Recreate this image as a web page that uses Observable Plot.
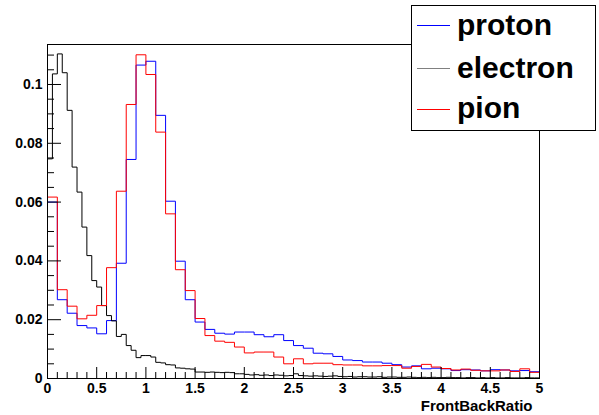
<!DOCTYPE html>
<html>
<head>
<meta charset="utf-8">
<script src="https://cdn.jsdelivr.net/npm/d3@7"></script>
<script src="https://cdn.jsdelivr.net/npm/@observablehq/plot@0.6"></script>
<style>
  html, body { margin: 0; padding: 0; background: #fff; }
  #chart { width: 599px; height: 415px; }
</style>
</head>
<body>
<div id="chart"></div>
<script>
// ---- data (histogram bin contents) ----
const coarseBinWidth = 0.1;   // proton & pion: 50 bins on [0,5]
const fineBinWidth = 0.05;    // electron: 100 bins on [0,5]

const protonValues = [
  0.0600, 0.0268, 0.0222, 0.0180, 0.0172, 0.0152, 0.0197, 0.0392, 0.0745, 0.1066,
  0.1079, 0.0895, 0.0603, 0.0399, 0.0268, 0.0192, 0.0167, 0.0154, 0.0151, 0.0158,
  0.0158, 0.0149, 0.0142, 0.0149, 0.0129, 0.0112, 0.0103, 0.0086, 0.0084, 0.0075,
  0.0063, 0.0061, 0.0056, 0.0056, 0.0052, 0.0047, 0.0039, 0.0043, 0.0033, 0.0035,
  0.0033, 0.0027, 0.0030, 0.0029, 0.0026, 0.0030, 0.0029, 0.0026, 0.0027, 0.0023
];

const pionValues = [
  0.0617, 0.0302, 0.0246, 0.0203, 0.0215, 0.0248, 0.0377, 0.0637, 0.0932, 0.1101,
  0.1034, 0.0838, 0.0560, 0.0370, 0.0299, 0.0204, 0.0146, 0.0127, 0.0123, 0.0107,
  0.0087, 0.0090, 0.0090, 0.0073, 0.0050, 0.0067, 0.0050, 0.0052, 0.0052, 0.0047,
  0.0046, 0.0046, 0.0043, 0.0043, 0.0044, 0.0044, 0.0035, 0.0041, 0.0048, 0.0039,
  0.0034, 0.0029, 0.0032, 0.0028, 0.0026, 0.0026, 0.0029, 0.0024, 0.0033, 0.0021
];

const electronValues = [
  0.0747, 0.1036, 0.1104, 0.1040, 0.0912, 0.0719, 0.0634, 0.0515, 0.0418, 0.0333,
  0.0311, 0.0248, 0.0214, 0.0196, 0.0143, 0.0150, 0.0112, 0.0096, 0.0071, 0.0078,
  0.0078, 0.0073, 0.0055, 0.0053, 0.0047, 0.0046, 0.0036, 0.0035, 0.0033, 0.0032,
  0.0022, 0.0022, 0.0021, 0.0022, 0.0021, 0.0020, 0.0021, 0.0020, 0.0016, 0.0016,
  0.0014, 0.0012, 0.0013, 0.0011, 0.0012, 0.0010, 0.0012, 0.0011, 0.0009, 0.0010,
  0.0016, 0.0010, 0.0009, 0.0008, 0.0009, 0.0008, 0.0007, 0.0008, 0.0009, 0.0007,
  0.0006, 0.0007, 0.0005, 0.0006, 0.0006, 0.0005, 0.0005, 0.0006, 0.0004, 0.0005,
  0.0005, 0.0004, 0.0004, 0.0005, 0.0004, 0.0003, 0.0004, 0.0003, 0.0004, 0.0003,
  0.0003, 0.0004, 0.0003, 0.0003, 0.0002, 0.0003, 0.0003, 0.0002, 0.0003, 0.0002,
  0.0003, 0.0002, 0.0002, 0.0003, 0.0002, 0.0002, 0.0002, 0.0003, 0.0002, 0.0002
];

const seriesNames = ["proton", "electron", "pion"];
const seriesColors = ["#0000ff", "#000000", "#ff0000"];
const legendLineColors = ["#0000ff", "#808080", "#ff0000"];

const xMajorTicks = [0, 0.5, 1, 1.5, 2, 2.5, 3, 3.5, 4, 4.5, 5];
const xTickLabels = ["0", "0.5", "1", "1.5", "2", "2.5", "3", "3.5", "4", "4.5", "5"];
const yMajorTicks = [0, 0.02, 0.04, 0.06, 0.08, 0.1];
const yTickLabels = ["0", "0.02", "0.04", "0.06", "0.08", "0.1"];
const xAxisTitle = "FrontBackRatio";

// ---- layout ----
const W = 599, H = 415;
const mL = 47, mR = 60, mT = 44, mB = 37;
const plotW = W - mL - mR, plotH = H - mT - mB;
const font = "'Liberation Sans', Arial, Helvetica, sans-serif";

function steps(values, w) {
  const pts = values.map((v, i) => ({x: i * w, y: v}));
  pts.push({x: values.length * w, y: values[values.length - 1]});
  return pts;
}

const xMinor = d3.range(0, 50).map(i => i / 10).filter(v => Math.round(v * 10) % 5 !== 0);
const yMinor = d3.range(0, 23).map(i => i * 0.005).filter(v => Math.round(v * 1000) % 20 !== 0);

const svg = Plot.plot({
  width: W, height: H,
  marginLeft: mL, marginRight: mR, marginTop: mT, marginBottom: mB,
  style: {fontFamily: font, fontWeight: "bold", background: "#fff"},
  x: {domain: [0, 5], label: null},
  y: {domain: [0, 0.1136], label: null},
  marks: [
    Plot.line(steps(protonValues, coarseBinWidth), {x: "x", y: "y", curve: "step-after", stroke: seriesColors[0], strokeWidth: 1}),
    Plot.line(steps(electronValues, fineBinWidth), {x: "x", y: "y", curve: "step-after", stroke: seriesColors[1], strokeWidth: 1}),
    Plot.line(steps(pionValues, coarseBinWidth), {x: "x", y: "y", curve: "step-after", stroke: seriesColors[2], strokeWidth: 1}),
    // inward ticks
    Plot.tickX(xMajorTicks, {x: d => d, insetTop: plotH - 11, stroke: "#000"}),
    Plot.tickX(xMinor, {x: d => d, insetTop: plotH - 6, stroke: "#000"}),
    Plot.tickY(yMajorTicks, {y: d => d, insetRight: plotW - 14, stroke: "#000"}),
    Plot.tickY(yMinor, {y: d => d, insetRight: plotW - 7, stroke: "#000"}),
    Plot.frame({stroke: "#000"}),
    Plot.axisX(xMajorTicks, {tickSize: 0, tickPadding: 5, fontSize: 14, fontWeight: "bold", fill: "#000", label: null,
      tickFormat: d => xTickLabels[xMajorTicks.indexOf(d)]}),
    Plot.axisY(yMajorTicks, {tickSize: 0, tickPadding: 5, fontSize: 14, fontWeight: "bold", fill: "#000", label: null,
      tickFormat: d => yTickLabels[yMajorTicks.indexOf(d)]}),
    Plot.text([xAxisTitle], {frameAnchor: "bottom-right", text: d => d, dx: -7, dy: 32,
      textAnchor: "end", lineAnchor: "bottom", fontSize: 15, fontWeight: "bold", fill: "#000"})
  ]
});

// ---- legend box (ROOT TLegend style) ----
const g = d3.select(svg).append("g").attr("font-family", font).attr("font-weight", "bold")
  .attr("text-anchor", "start");
g.append("rect").attr("x", 411.5).attr("y", 5.5).attr("width", 184).attr("height", 125)
  .attr("fill", "#fff").attr("stroke", "#000").attr("stroke-width", 1);
const rowY = [25, 68, 109];
const baseY = [35, 78, 118];
seriesNames.forEach((name, i) => {
  g.append("line").attr("x1", 417).attr("x2", 450).attr("y1", rowY[i] + 0.5).attr("y2", rowY[i] + 0.5)
    .attr("stroke", legendLineColors[i]).attr("stroke-width", 1);
  g.append("text").attr("x", 457).attr("y", baseY[i]).attr("font-size", 30)
    .attr("text-anchor", "start").attr("fill", "#000").text(name);
});

document.getElementById("chart").appendChild(svg);
</script>
</body>
</html>
